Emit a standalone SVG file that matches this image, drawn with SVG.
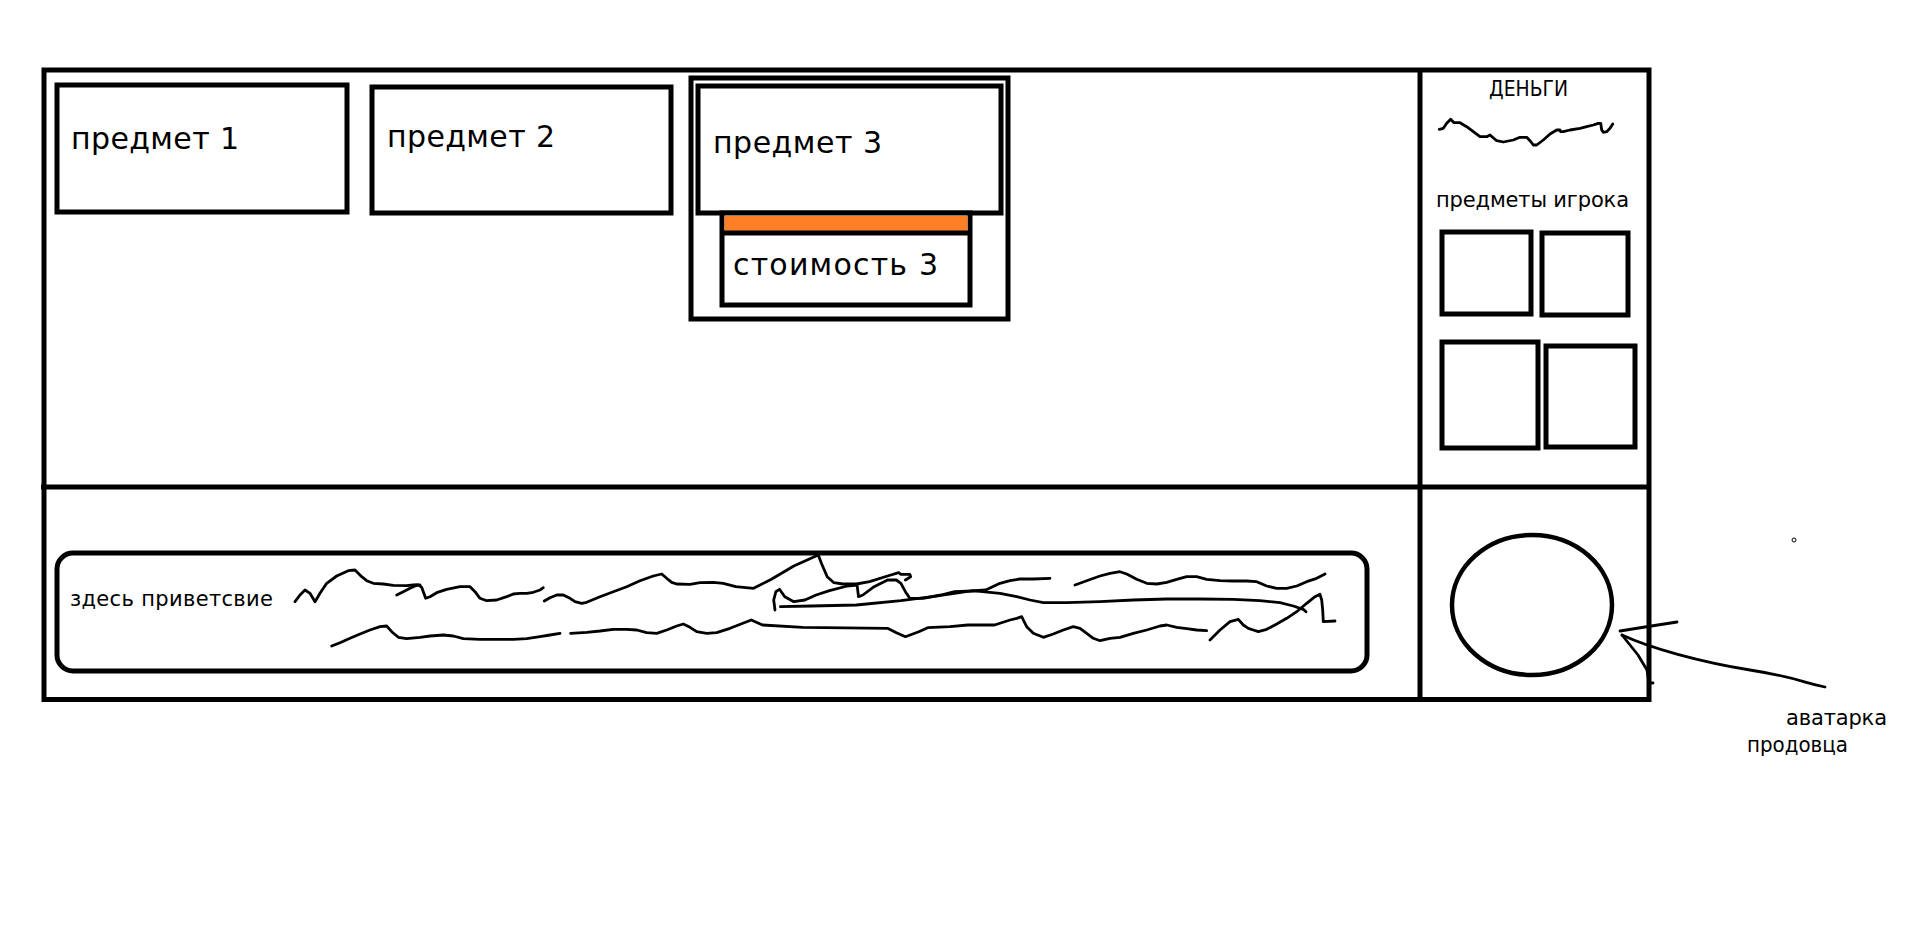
<svg xmlns="http://www.w3.org/2000/svg" width="1914" height="935" viewBox="0 0 1914 935">
<style>
.box{fill:#fff;stroke:#000;stroke-width:5}
.ln{fill:none;stroke:#000;stroke-width:5}
.scr{fill:none;stroke:#000;stroke-width:2.8;stroke-linecap:round;stroke-linejoin:round}
.big{font-family:"DejaVu Sans",Verdana,sans-serif;font-size:30px;fill:#000}
.sm{font-family:"DejaVu Sans",Verdana,sans-serif;font-size:21px;fill:#000}
</style>
<rect width="1914" height="935" fill="#fff"/>
<g id="frame">
<rect class="ln" x="44" y="70" width="1605" height="629.5"/>
<line class="ln" x1="41" y1="487" x2="1649" y2="487"/>
<line class="ln" x1="1420" y1="70" x2="1420" y2="702"/>
</g>
<g id="item1">
<rect class="box" x="57" y="85" width="290" height="127"/>
<text class="big" x="71" y="149" textLength="168" lengthAdjust="spacing">предмет 1</text>
</g>
<g id="item2">
<rect class="box" x="372" y="87" width="299" height="126"/>
<text class="big" x="387" y="147" textLength="168" lengthAdjust="spacing">предмет 2</text>
</g>
<g id="item3">
<rect class="box" x="691" y="78" width="317" height="241"/>
<rect class="box" x="698" y="86" width="303" height="127"/>
<rect class="box" x="722" y="213" width="248" height="92"/>
<rect x="724.5" y="216" width="243" height="15" fill="#ff7f27"/>
<line class="ln" x1="722" y1="233" x2="970" y2="233"/>
<text class="big" x="713" y="153" textLength="169" lengthAdjust="spacing">предмет 3</text>
<text class="big" x="733" y="275" textLength="205" lengthAdjust="spacing">стоимость 3</text>
</g>
<g id="money">
<text class="sm" x="1489" y="96" textLength="79" lengthAdjust="spacingAndGlyphs" font-size="20">ДЕНЬГИ</text>
<polyline class="scr" points="1439.3,129.3 1443.3,128.3 1446.7,123.3 1450.7,119.3 1454,122.7 1460,122.7 1466.7,126.7 1473.3,131.7 1480,136.7 1486.7,136.7 1490,135 1496.7,140.7 1503.3,142 1513.3,140 1520,137.3 1526.7,137.3 1530,140.7 1533.3,145 1536.7,145 1543.3,140 1550,134 1556.7,130 1560,130 1560.7,131.7 1563.3,131.7 1570,130 1580,128.3 1586.7,126.7 1593.3,125 1598.3,123.3 1600.7,123.3 1601.7,130 1603.3,132.3 1606.7,131.7 1610,128.3 1612.7,124"/>
</g>
<g id="player-items">
<text class="sm" x="1436" y="207" textLength="193" lengthAdjust="spacing">предметы игрока</text>
<rect class="box" x="1442" y="232" width="89" height="82"/>
<rect class="box" x="1542" y="233" width="86" height="82"/>
<rect class="box" x="1442" y="342" width="96" height="106"/>
<rect class="box" x="1546" y="346" width="89" height="101"/>
</g>
<g id="greeting">
<rect x="57" y="553" width="1310" height="118" rx="16" ry="16" fill="#fff" stroke="#000" stroke-width="5"/>
<text class="sm" x="70" y="606" textLength="203" lengthAdjust="spacing">здесь приветсвие</text>
<polyline class="scr" points="295,601.7 300,595 305,590 310,593.3 315,601.7 320,593.3 326.7,583.3 336.7,576 348.3,570.7 355,570 361.7,576.7 366.7,580.7 373.3,583.3 383.3,584 393.3,585.3 406.7,585.7 413.3,585 418.3,584.7 421.7,587.3 423.3,591.7 425.7,598.3 430,596.7 436.7,592.7 446.7,589.3 460,586.7 470,586.7 475,591.7 480,598.3 486.7,600.7 496.7,600 506.7,596.7 513.3,594 520,593.3 526.7,593.3 533.3,592.3 540,590 543.3,587.7"/>
<polyline class="scr" points="396.7,595 403.3,591.7 410,588.3 415,586 420,585"/>
<polyline class="scr" points="544.3,601 550,597.7 556.7,595 563.3,595 570,598.3 575,601.7 581.7,603.3 586.7,602.3 600,596.7 613.3,591.7 626.7,586.7 640,580.7 653.3,576 661.7,574 666.7,578.3 671.7,582.3 676.7,584 690,584.3 700,582.7 713.3,582.3 723.3,583.3 735.7,586.7 753.6,588.3 771.4,579.3 793.8,566 818.3,555 821.4,563.3 827.2,576.7 833.9,582.7 842.9,584 856.3,584 869.6,581.7 887.5,576 898.7,572.7 900.9,574.3 909.8,574.3 910.7,576.7 905.4,580"/>
<polyline class="scr" points="775,610 773.7,600 775.9,591.7 779.5,589.3 784.8,596.7 793.8,601.7 804.9,600 816.1,595 829.5,590.7 847.3,586 857.1,585 858.5,596.7 862.9,595 874.1,586.7 887.5,580 896.4,580 900.9,583.3 905.4,591.7 909.8,598.3 923.2,598.3 941,595 954.5,591.7 972.3,591 985.7,590 1000,583.3 1010,580.7 1020,579 1033.3,579 1050,578.3"/>
<polyline class="scr" points="780.4,606.7 811.6,606 856.3,605 900.9,600.7 932.1,596.7 954.5,593.3 972.3,590.7 1000,593.3 1016.7,596.7 1030,600 1043.3,602.7 1066.7,602.7 1100,601.7 1133.3,600 1166.7,599 1200,599 1233.3,599.3 1260,600.7 1280,602.7 1293.3,606 1303.3,609.3 1306,611.7"/>
<polyline class="scr" points="1075,585 1086.7,580.7 1100,576 1110,573.3 1120,571.7 1126.7,574 1136.7,579.3 1146.7,583.3 1156.7,584 1166.7,582.3 1176.7,579.3 1186.7,576.7 1196.7,576.7 1206.7,579.3 1220,580.7 1233.3,581 1246.7,581 1256.7,581.7 1266.7,586 1276.7,588.3 1286.7,588.3 1296.7,586 1306.7,581.7 1316.7,578.3 1325,574"/>
<polyline class="scr" points="331.7,646 340,642.7 350,638.3 360,634 370,630 380,626.7 386.7,626 391.7,631.7 398.3,637.3 406.7,638.7 420,637.3 430,636 443.3,635 453.3,636 463.3,638.7 480,639.3 496.7,639.3 513.3,639.3 526.7,638.7 540,636.7 550,635 560,633.3"/>
<polyline class="scr" points="570.7,633.3 586.7,632.3 600,631 613.3,629.3 626.7,629.3 636.7,630 646.7,632.7 656.7,633.3 666.7,630 676.7,626 683.3,624 690,627.3 696.7,631.7 706.7,633.3 716.7,632.7 730,628.3 751.3,620 762.5,625 802.7,627.3 887.5,628.3 896.4,632.7 905.4,636.7 918.8,631.7 927.7,627.7 950,626.7 967.9,625 994.6,625 1010,620 1016.7,618.3 1021.7,616.7 1023.3,620 1026.7,626.7 1033.3,633.3 1043.3,637.3 1053.3,634 1063.3,630 1073.3,626.7 1080,628.3 1086.7,633.3 1093.3,638.3 1100,640.7 1110,638.3 1120,637.3 1133.3,633.3 1146.7,630 1160,626 1166.7,625 1176.7,627.3 1186.7,628.7 1196.7,630 1206.7,630.7"/>
<polyline class="scr" points="1210,640 1220,630 1230,621.7 1238.3,619.3 1243.3,625 1248.3,628.3 1253.3,630 1258.3,631.7 1266.7,629.3 1276.7,624 1286.7,618.3 1296.7,611.7 1306.7,603.3 1315,596.7 1320,594.3 1321.7,600 1322.7,610 1323.3,621.7 1335,621"/>
</g>
<g id="avatar">
<ellipse cx="1532" cy="605" rx="80" ry="70" fill="none" stroke="#000" stroke-width="4.5"/>
</g>
<g id="label">
<text class="sm" x="1786" y="725" textLength="101" lengthAdjust="spacing">аватарка</text>
<text class="sm" x="1747" y="752" textLength="101" lengthAdjust="spacingAndGlyphs">продовца</text>
<circle cx="1794" cy="540" r="2" fill="none" stroke="#000" stroke-width="1"/>
</g>
<g id="connectors">
<polyline class="scr" points="1620,631 1645,627 1677,622"/>
<path class="scr" d="M1622,635 C1650,648 1700,662 1750,670 S1800,682 1825,687"/>
<polyline class="scr" points="1622,635 1638,655 1647,670 1649,683 1653,683"/>
</g>
</svg>
